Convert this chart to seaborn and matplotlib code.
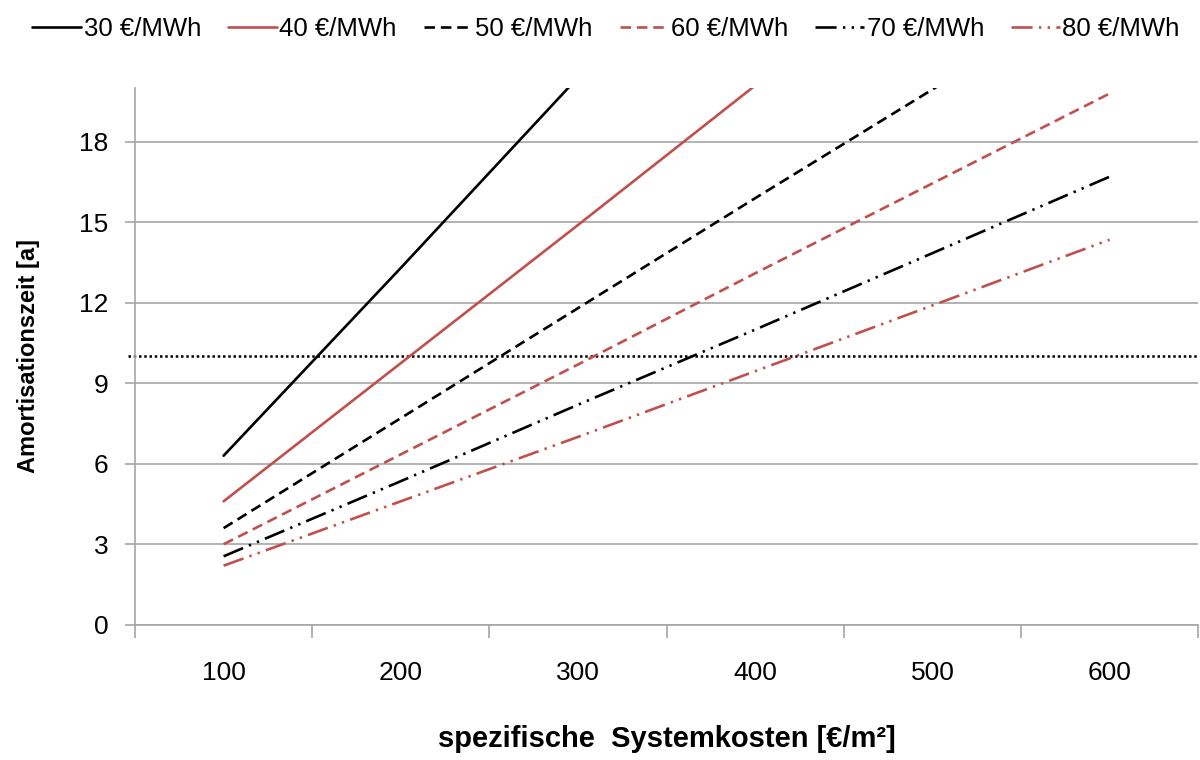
import matplotlib
matplotlib.use("Agg")
import matplotlib.pyplot as plt
import seaborn as sns
import pandas as pd

# --- data ---
kosten = [100, 200, 300, 400, 500, 600]
series_labels = ["30 €/MWh", "40 €/MWh", "50 €/MWh", "60 €/MWh", "70 €/MWh", "80 €/MWh"]
werte_30 = [6.3, 13.3, 20.4]
werte_40 = [4.6, 9.75, 14.9, 20.1]
werte_50 = [3.6, 7.7, 11.8, 15.9, 19.95, 24.0]
werte_60 = [3.0, 6.35, 9.7, 13.1, 16.45, 19.8]
werte_70 = [2.55, 5.35, 8.2, 11.0, 13.85, 16.7]
werte_80 = [2.2, 4.6, 7.0, 9.45, 11.9, 14.35]
grenze = 10
x_ticklabels = ["100", "200", "300", "400", "500", "600"]
y_ticks = [0, 3, 6, 9, 12, 15, 18]

all_vals = [werte_30, werte_40, werte_50, werte_60, werte_70, werte_80]
rows = []
for lab, vals in zip(series_labels, all_vals):
    for xv, yv in zip(kosten, vals):
        rows.append({"Systemkosten": xv, "Amortisationszeit": yv, "Preis": lab})
df = pd.DataFrame(rows)

sns.set_theme(style="white")
plt.rcParams["font.family"] = ["Liberation Sans", "DejaVu Sans"]
plt.rcParams["text.color"] = "black"
plt.rcParams["axes.labelcolor"] = "black"

RED = "#C0504D"
palette = {series_labels[0]: "black", series_labels[1]: RED,
           series_labels[2]: "black", series_labels[3]: RED,
           series_labels[4]: "black", series_labels[5]: RED}
dashes = {series_labels[0]: "", series_labels[1]: "",
          series_labels[2]: (4.0, 2.2), series_labels[3]: (4.0, 2.2),
          series_labels[4]: (8, 2.4, 0.9, 2.4, 0.9, 2.4),
          series_labels[5]: (8, 2.4, 0.9, 2.4, 0.9, 2.4)}

fig = plt.figure(figsize=(12, 7.6), dpi=100)
ax = fig.add_axes([0.1125, 0.178, 0.886, 0.706])

sns.lineplot(data=df, x="Systemkosten", y="Amortisationszeit", hue="Preis",
             style="Preis", palette=palette, dashes=dashes, linewidth=1.9,
             ax=ax, sort=False)

ax.axhline(grenze, xmin=-0.007, color="black", linestyle=(0, (1, 1.1)),
           linewidth=1.8, zorder=1, clip_on=False)

ax.set_xlim(50, 650)
ax.set_ylim(0, 20)
ax.set_yticks(y_ticks)
ax.yaxis.grid(True, color="#A6A6A6", linewidth=1.2)
ax.xaxis.grid(False)
ax.set_axisbelow(True)

ax.set_xticks([50, 150, 250, 350, 450, 550, 650])
ax.set_xticklabels([])
ax.set_xticks(kosten, minor=True)
ax.set_xticklabels(x_ticklabels, minor=True)
ax.tick_params(axis="x", which="major", direction="out", length=9, width=1.2,
               color="#A6A6A6", bottom=True)
ax.tick_params(axis="x", which="minor", length=0, pad=26, labelsize=19,
               labelcolor="black", bottom=True)
ax.tick_params(axis="y", direction="out", length=7, width=1.2, color="#A6A6A6",
               left=True, labelsize=19, pad=12, labelcolor="black")

for side in ["top", "right"]:
    ax.spines[side].set_visible(False)
for side in ["left", "bottom"]:
    ax.spines[side].set_color("#A6A6A6")
    ax.spines[side].set_linewidth(1.2)

ax.set_xlabel("spezifische  Systemkosten [€/m²]", fontsize=21, fontweight="bold",
              labelpad=29, color="black")
ax.set_ylabel("Amortisationszeit [a]", fontsize=17, fontweight="bold", labelpad=28,
              color="black")

handles, labels = ax.get_legend_handles_labels()
if ax.get_legend() is not None:
    ax.get_legend().remove()
leg = fig.legend(handles, labels, loc="upper center", bbox_to_anchor=(0.505, 1.008),
                 ncol=6, frameon=False, fontsize=18.5, handlelength=1.9,
                 handletextpad=0.1, columnspacing=1.05)
for t in leg.get_texts():
    t.set_color("black")

fig.savefig("out.png", dpi=100)
